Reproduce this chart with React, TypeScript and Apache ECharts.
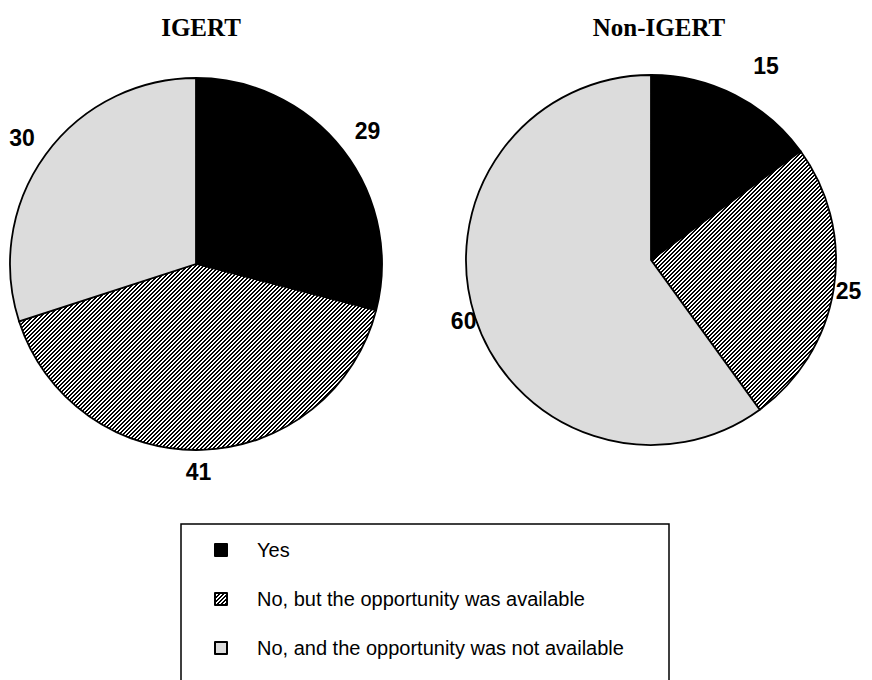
import React, { useEffect, useRef } from "react";
import * as echarts from "echarts";

const categories = [
  "Yes",
  "No, but the opportunity was available",
  "No, and the opportunity was not available",
];
const chartTitles = ["IGERT", "Non-IGERT"];
const igertValues = [29, 41, 30];
const nonIgertValues = [15, 25, 60];

const seriesValues = [igertValues, nonIgertValues];
// layout / style constants
const centers: [number, number][] = [
  [196, 264],
  [651, 260],
];
const radii = [186, 185];
const labelOffsets = [
  [31, 22, 29],
  [33, 15, 12],
];
const labelNudgeX = [
  [0, -4, 0],
  [16, 0, 0],
];

function makeHatch(): HTMLCanvasElement {
  const c = document.createElement("canvas");
  c.width = 4;
  c.height = 4;
  const ctx = c.getContext("2d")!;
  ctx.fillStyle = "#ffffff";
  ctx.fillRect(0, 0, 4, 4);
  ctx.fillStyle = "#000000";
  for (let x = 0; x < 4; x++) {
    for (let y = 0; y < 4; y++) {
      if ((x + y) % 4 < 2) ctx.fillRect(x, y, 1, 1);
    }
  }
  return c;
}

export default function App() {
  const ref = useRef<HTMLDivElement>(null);
  useEffect(() => {
    if (!ref.current) return;
    const chart = echarts.init(ref.current, undefined, { renderer: "svg" });
    const hatch = makeHatch();
    const colors: any[] = [
      "#000000",
      { image: hatch, repeat: "repeat" },
      "#dcdcdc",
    ];
    const mkData = (vals: number[]) =>
      vals.map((v, i) => ({
        name: categories[i],
        value: v,
        itemStyle: { color: colors[i] },
      }));
    const labelLayout = (p: any) => {
      const s = p.seriesIndex;
      const k = p.dataIndex;
      const vals = seriesValues[s];
      const total = vals.reduce((a, b) => a + b, 0);
      let cum = 0;
      for (let i = 0; i < k; i++) cum += vals[i];
      const mid = ((cum + vals[k] / 2) / total) * Math.PI * 2;
      const [cx, cy] = centers[s];
      const d = radii[s] + labelOffsets[s][k];
      return {
        x: cx + Math.sin(mid) * d + labelNudgeX[s][k],
        y: cy - Math.cos(mid) * d,
        align: "center",
        verticalAlign: "middle",
      };
    };
    const seriesCommon = {
      type: "pie" as const,
      startAngle: 90,
      clockwise: true,
      avoidLabelOverlap: false,
      itemStyle: { borderColor: "#000", borderWidth: 1.8 },
      label: {
        show: true,
        position: "outside",
        formatter: "{c}",
        fontFamily: "Liberation Sans, Arial, sans-serif",
        fontWeight: "bold",
        fontSize: 23,
        color: "#000",
      },
      labelLine: { show: false, length: 16, length2: 0 },
      labelLayout,
      emphasis: { disabled: true },
    };
    const titleStyle = {
      fontFamily: "Liberation Serif, Times New Roman, serif",
      fontWeight: "bold",
      fontSize: 25,
      color: "#000",
    };
    chart.setOption({
      animation: false,
      backgroundColor: "#ffffff",
      title: [
        {
          text: chartTitles[0],
          left: 196,
          top: 10,
          textAlign: "center",
          textStyle: titleStyle,
        },
        {
          text: chartTitles[1],
          left: 654,
          top: 10,
          textAlign: "center",
          textStyle: titleStyle,
        },
      ],
      legend: {
        data: categories,
        orient: "vertical",
        left: 209,
        top: 535,
        itemWidth: 12,
        itemHeight: 12,
        itemGap: 29,
        icon: "rect",
        selectedMode: false,
        textStyle: {
          fontFamily: "Liberation Sans, Arial, sans-serif",
          fontSize: 20,
          color: "#000",
          padding: [0, 0, 0, 25],
        },
      },
      graphic: [
        {
          type: "rect",
          shape: { x: 181, y: 524, width: 488, height: 180 },
          style: { fill: "none", stroke: "#000", lineWidth: 1.5 },
          silent: true,
        },
      ],
      series: [
        {
          ...seriesCommon,
          name: chartTitles[0],
          center: centers[0],
          radius: radii[0],
          data: mkData(igertValues),
        },
        {
          ...seriesCommon,
          name: chartTitles[1],
          center: centers[1],
          radius: radii[1],
          data: mkData(nonIgertValues),
        },
      ],
    });
    return () => chart.dispose();
  }, []);
  return (
    <div
      ref={ref}
      style={{ position: "fixed", left: 0, top: 0, width: 872, height: 680 }}
    />
  );
}
